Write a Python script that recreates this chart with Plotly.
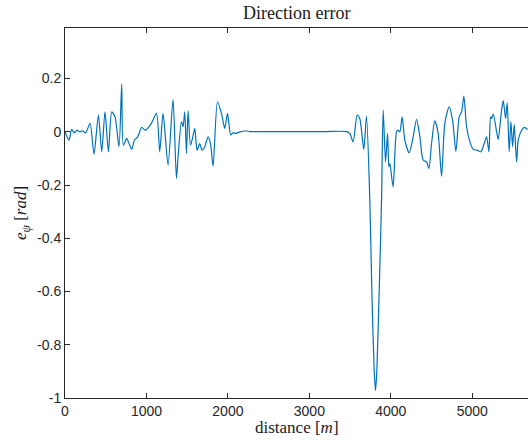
import plotly.graph_objects as go

# distance [m]
distance = [0, 49, 82, 115, 144, 184, 214, 254, 307, 356, 410, 451, 491, 533, 574, 614,
            663, 696, 717, 758, 779, 819, 852, 893, 942, 983, 1061, 1123, 1163, 1204, 1265,
            1326, 1368, 1388, 1430, 1449, 1470, 1491, 1511, 1540, 1565, 1593, 1621, 1654,
            1683, 1716, 1756, 1786, 1818, 1872, 1921, 1961, 1995, 2035, 2063, 2097, 2146,
            2228, 2268, 2500, 2700, 3000, 3200, 3456, 3497, 3537, 3587, 3619, 3668, 3701,
            3742, 3767, 3796, 3812, 3828, 3857, 3886, 3906, 3935, 3960, 3976, 3988, 4028,
            4070, 4090, 4111, 4139, 4172, 4225, 4267, 4316, 4357, 4397, 4439, 4467, 4500,
            4540, 4581, 4623, 4663, 4716, 4758, 4799, 4839, 4869, 4897, 4930, 4971, 5011,
            5053, 5106, 5146, 5176, 5204, 5225, 5237, 5257, 5299, 5318, 5360, 5380, 5409,
            5429, 5453, 5474, 5495, 5515, 5544, 5564, 5606, 5637, 5679]

# direction error e_psi [rad]
e_psi = [0.0, -0.031, 0.009, -0.004, 0.006, 0.0, 0.004, -0.004, 0.032, -0.084, 0.063, -0.075,
         0.075, -0.075, 0.075, 0.056, -0.056, 0.179, -0.05, -0.025, -0.038, -0.066, -0.031,
         -0.019, 0.017, 0.006, 0.032, 0.069, -0.075, 0.069, -0.125, 0.122, -0.175, -0.094,
         0.038, 0.019, 0.075, -0.081, 0.079, -0.05, -0.025, 0.013, -0.069, -0.044, -0.069,
         -0.056, -0.019, -0.044, -0.129, 0.113, 0.069, 0.013, 0.069, -0.012, -0.004, -0.006,
         0.0, 0.003, 0.001, 0.001, 0.001, 0.001, 0.001, 0.001, -0.006, -0.038, 0.063, 0.05,
         -0.066, 0.059, -0.257, -0.6, -0.9, -0.971, -0.9, -0.6, -0.257, 0.082, -0.113,
         -0.006, -0.131, -0.119, -0.207, 0.0, 0.006, 0.0, 0.056, -0.031, -0.079, -0.031,
         0.047, -0.019, -0.106, -0.113, -0.138, -0.044, 0.041, -0.006, -0.167, 0.032, 0.094,
         0.044, -0.073, 0.056, 0.075, 0.134, 0.019, -0.038, -0.066, -0.069, -0.075, -0.044,
         -0.019, -0.075, 0.056, 0.05, 0.067, 0.0, -0.029, 0.082, 0.117, 0.05, 0.109, -0.075,
         0.038, -0.056, 0.028, -0.113, -0.031, 0.006, 0.017, 0.009]

x_ticks = [0, 1000, 2000, 3000, 4000, 5000]
x_ticktext = ["0", "1000", "2000", "3000", "4000", "5000"]
y_ticks = [-1, -0.8, -0.6, -0.4, -0.2, 0, 0.2]
y_ticktext = ["-1", "-0.8", "-0.6", "-0.4", "-0.2", "0", "0.2"]

axcol = "#262626"
tickfont = dict(family="Liberation Sans, Arial, sans-serif", size=14, color=axcol)
serif = "Liberation Serif, Times New Roman, serif"

fig = go.Figure()
fig.add_trace(go.Scatter(x=distance, y=e_psi, mode="lines",
                         line=dict(color="#0072BD", width=1.2, shape="spline", smoothing=0.7),
                         showlegend=False, hoverinfo="skip"))

fig.update_layout(
    width=528, height=443,
    margin=dict(l=65, r=0, t=28, b=45),
    paper_bgcolor="white", plot_bgcolor="white",
    xaxis=dict(range=[0, 5684], tickmode="array", tickvals=x_ticks, ticktext=x_ticktext,
               ticks="inside", ticklen=5, tickcolor=axcol, tickwidth=1,
               showline=True, linecolor=axcol, linewidth=1, mirror="ticks",
               showgrid=False, zeroline=False, tickfont=tickfont),
    yaxis=dict(range=[-1, 0.39], tickmode="array", tickvals=y_ticks, ticktext=y_ticktext,
               ticks="inside", ticklen=5, tickcolor=axcol, tickwidth=1,
               showline=True, linecolor=axcol, linewidth=1, mirror=False,
               showgrid=False, zeroline=False, tickfont=tickfont),
    annotations=[
        dict(text="Direction error", xref="paper", yref="paper", x=0.5, y=1, yshift=15,
             xanchor="center", yanchor="middle", showarrow=False,
             font=dict(family=serif, size=18, color="#1a1a1a")),
        dict(text="distance [<i>m</i>]", xref="paper", yref="paper", x=0.5, y=0, yshift=-29,
             xanchor="center", yanchor="middle", showarrow=False,
             font=dict(family=serif, size=17, color="#1a1a1a")),
        dict(text="<i>e</i><sub><i>ψ</i></sub> [<i>rad</i>]", xref="paper", yref="paper",
             x=0, xshift=-43, y=0.5, yshift=0, textangle=-90,
             xanchor="center", yanchor="middle", showarrow=False,
             font=dict(family=serif, size=17, color="#1a1a1a")),
    ],
)

fig.write_html("out.html")
